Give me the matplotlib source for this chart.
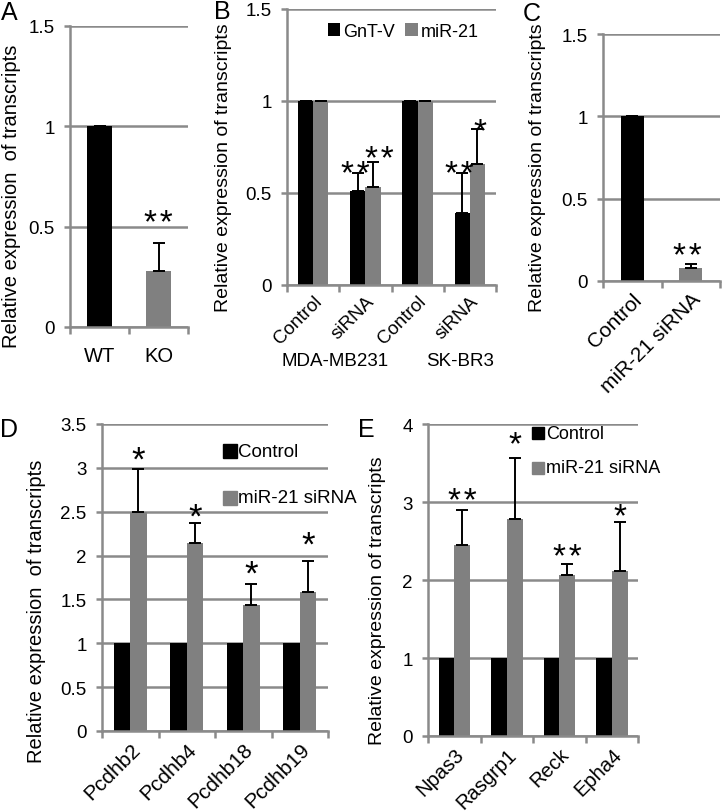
import matplotlib
matplotlib.use('Agg')
import matplotlib.pyplot as plt
import numpy as np

plt.rcParams['font.family'] = ['Liberation Sans', 'DejaVu Sans']

GRID = '#8a8a8a'
BLACK = '#000000'
GRAY = '#808080'

# ---------------- data ----------------
a_cats = ['WT', 'KO']
a_vals = [1.0, 0.28]
a_err = [0.0, 0.14]
a_stars = ['', '**']
a_star_y = [0, 0.57]

b_cats = ['Control', 'siRNA', 'Control', 'siRNA']
b_groups = ['MDA-MB231', 'SK-BR3']
b_series = ['GnT-V', 'miR-21']
b_gntv = [1.0, 0.51, 1.0, 0.39]
b_gntv_err = [0.0, 0.10, 0.0, 0.22]
b_mir = [1.0, 0.53, 1.0, 0.66]
b_mir_err = [0.0, 0.14, 0.0, 0.19]
b_gntv_stars = ['', '**', '', '**']
b_gntv_star_y = [0, 0.66, 0, 0.66]
b_mir_stars = ['', '**', '', '*']
b_mir_star_y = [0, 0.74, 0, 0.89]

c_cats = ['Control', 'miR-21 siRNA']
c_vals = [1.0, 0.08]
c_err = [0.0, 0.025]
c_stars = ['', '**']
c_star_y = [0, 0.21]

d_cats = ['Pcdhb2', 'Pcdhb4', 'Pcdhb18', 'Pcdhb19']
d_series = ['Control', 'miR-21 siRNA']
d_ctrl = [1.0, 1.0, 1.0, 1.0]
d_sirna = [2.50, 2.14, 1.44, 1.59]
d_sirna_err = [0.49, 0.23, 0.24, 0.35]
d_stars = ['*', '*', '*', '*']
d_star_y = [3.20, 2.56, 1.91, 2.24]

e_cats = ['Npas3', 'Rasgrp1', 'Reck', 'Epha4']
e_series = ['Control', 'miR-21 siRNA']
e_ctrl = [1.0, 1.0, 1.0, 1.0]
e_sirna = [2.45, 2.78, 2.07, 2.11]
e_sirna_err = [0.45, 0.78, 0.14, 0.63]
e_stars = ['**', '*', '**', '*']
e_star_y = [3.14, 3.87, 2.42, 2.95]

W, H = 722, 812
fig = plt.figure(figsize=(W/100, H/100), dpi=100)


def box(x0, x1, ytop, ybot):
    return [x0/W, 1-ybot/H, (x1-x0)/W, (ybot-ytop)/H]


def style(ax, ylim, yticks, yticklabels, ncat, tickfs=13):
    ax.set_xlim(-0.5, ncat - 0.5)
    ax.set_ylim(*ylim)
    ax.set_yticks(yticks)
    ax.set_yticklabels(yticklabels, fontsize=tickfs)
    ax.set_axisbelow(True)
    ax.yaxis.grid(True, color=GRID, linewidth=1.8)
    for s in ['top', 'right']:
        ax.spines[s].set_visible(False)
    for s in ['left', 'bottom']:
        ax.spines[s].set_color(GRID)
        ax.spines[s].set_linewidth(1.8)
    ax.tick_params(axis='y', direction='out', length=4, width=1.8, color=GRID, pad=7)
    ax.set_xticks(np.arange(-0.5, ncat, 1.0), minor=True)
    ax.tick_params(axis='x', which='minor', direction='out', length=5, width=1.8, color=GRID)
    ax.tick_params(axis='x', which='major', length=0)
    ax.set_xticks(np.arange(ncat))


def star(ax, x, y, s, fs=24):
    txt = '\u200a'.join(s)
    ax.annotate(txt, (x, y), xytext=(0, -0.57 * fs), textcoords='offset points',
                ha='center', va='baseline', fontsize=fs)


def ylab(x, y, s, fs):
    fig.text(x/W, 1-y/H, s, rotation=90, ha='center', va='center', fontsize=fs)


def letter(x, y, s):
    fig.text(x/W, 1-y/H, s, ha='center', va='center', fontsize=18)


def legend_entries(ax, entries, xpos, fs, ms=9.5):
    for lab, col, yy in entries:
        ax.plot([xpos], [yy], marker='s', markersize=ms, color=col, linestyle='none')
        ax.annotate(lab, (xpos, yy), xytext=(5.5, 0), textcoords='offset points',
                    fontsize=fs, ha='left', va='center')


ekw = dict(ecolor='black', elinewidth=1.4, capsize=4.5, capthick=1.4)

# ---------------- Panel A ----------------
axA = fig.add_axes(box(70, 188, 27, 328))
style(axA, (0, 1.5), [0, 0.5, 1, 1.5], ['0', '0.5', '1', '1.5'], 2, 13.5)
xa = np.arange(len(a_cats))
axA.bar(xa, a_vals, width=0.42, color=[BLACK, GRAY],
        yerr=[[0]*2, a_err], error_kw=ekw)
axA.set_xticklabels(a_cats, fontsize=14.5)
axA.tick_params(axis='x', which='major', pad=14)
for i, s in enumerate(a_stars):
    if s:
        star(axA, xa[i], a_star_y[i], s)
ylab(12, 196, 'Relative expression  of transcripts', 14.5)
letter(9, 13, 'A')

# ---------------- Panel B ----------------
axB = fig.add_axes(box(287, 496, 10, 286))
style(axB, (0, 1.5), [0, 0.5, 1, 1.5], ['0', '0.5', '1', '1.5'], 4, 13.5)
xb = np.arange(len(b_cats))
wb = 0.29
axB.bar(xb - wb/2, b_gntv, width=wb, color=BLACK, label=b_series[0],
        yerr=[[0]*4, b_gntv_err], error_kw=ekw)
axB.bar(xb + wb/2, b_mir, width=wb, color=GRAY, label=b_series[1],
        yerr=[[0]*4, b_mir_err], error_kw=ekw)
axB.set_xticklabels(b_cats, fontsize=13.5, rotation=45, ha='right', rotation_mode='anchor')
axB.tick_params(axis='x', which='major', pad=5)
for i in range(4):
    if b_gntv_stars[i]:
        star(axB, xb[i] - wb/2 - 0.05, b_gntv_star_y[i], b_gntv_stars[i])
    if b_mir_stars[i]:
        star(axB, xb[i] + wb/2 + (0.12 if len(b_mir_stars[i]) > 1 else 0.05),
             b_mir_star_y[i], b_mir_stars[i])
axB.legend(loc='upper left', bbox_to_anchor=((314-287)/209, 1.0), ncol=2, frameon=False,
           fontsize=13, handlelength=0.7, handleheight=0.7, handletextpad=0.15,
           columnspacing=0.6, borderaxespad=0.55, borderpad=0.2)
ylab(223, 168, 'Relative expression of transcripts', 14)
fig.text(335/W, 1-362/H, b_groups[0], fontsize=13.5, ha='center', va='center')
fig.text(460/W, 1-362/H, b_groups[1], fontsize=13.5, ha='center', va='center')
letter(222, 12, 'B')

# ---------------- Panel C ----------------
axC = fig.add_axes(box(603, 720, 35, 282))
style(axC, (0, 1.5), [0, 0.5, 1, 1.5], ['0', '0.5', '1', '1.5'], 2, 13.5)
xc = np.arange(len(c_cats))
axC.bar(xc, c_vals, width=0.4, color=[BLACK, GRAY],
        yerr=[[0]*2, c_err], error_kw=ekw)
axC.set_xticklabels(c_cats, fontsize=15, rotation=45, ha='right', rotation_mode='anchor')
axC.tick_params(axis='x', which='major', pad=6)
for i, s in enumerate(c_stars):
    if s:
        star(axC, xc[i] - 0.05, c_star_y[i], s)
ylab(537, 168, 'Relative expression of transcripts', 14)
letter(532, 14, 'C')

# ---------------- Panel D ----------------
axD = fig.add_axes(box(102, 328, 425, 732))
dt = [0, 0.5, 1, 1.5, 2, 2.5, 3, 3.5]
style(axD, (0, 3.5), dt, ['0', '0.5', '1', '1.5', '2', '2.5', '3', '3.5'], 4, 13.5)
xd = np.arange(len(d_cats))
wd = 0.29
axD.bar(xd - wd/2, d_ctrl, width=wd, color=BLACK)
axD.bar(xd + wd/2, d_sirna, width=wd, color=GRAY,
        yerr=[[0]*4, d_sirna_err], error_kw=ekw)
axD.set_xticklabels(d_cats, fontsize=15, rotation=45, ha='right', rotation_mode='anchor')
axD.tick_params(axis='x', which='major', pad=6)
for i, s in enumerate(d_stars):
    star(axD, xd[i] + wd/2, d_star_y[i], s, 25)
ylab(37, 611, 'Relative expression  of transcripts', 14.5)
letter(9, 430, 'D')
legend_entries(axD, [(d_series[0], BLACK, 3.19), (d_series[1], GRAY, 2.66)], 1.77, 13.5, 10)

# ---------------- Panel E ----------------
axE = fig.add_axes(box(428, 638, 425, 737))
style(axE, (0, 4), [0, 1, 2, 3, 4], ['0', '1', '2', '3', '4'], 4, 13.5)
xe = np.arange(len(e_cats))
we = 0.3
axE.bar(xe - we/2, e_ctrl, width=we, color=BLACK)
axE.bar(xe + we/2, e_sirna, width=we, color=GRAY,
        yerr=[[0]*4, e_sirna_err], error_kw=ekw)
axE.set_xticklabels(e_cats, fontsize=14.5, rotation=45, ha='right', rotation_mode='anchor')
axE.tick_params(axis='x', which='major', pad=6)
for i, s in enumerate(e_stars):
    star(axE, xe[i] + we/2, e_star_y[i], s)
ylab(377, 601, 'Relative expression of transcripts', 14)
letter(366, 430, 'E')
legend_entries(axE, [(e_series[0], BLACK, 3.88), (e_series[1], GRAY, 3.44)], 1.6, 13, 8.5)

fig.savefig('out.png', dpi=100)
